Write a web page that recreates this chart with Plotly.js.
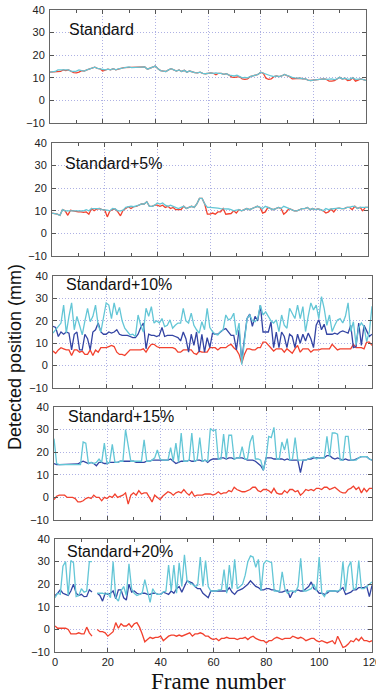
<!DOCTYPE html>
<html>
<head>
<meta charset="utf-8">
<script src="https://cdn.plot.ly/plotly-3.0.1.min.js"></script>
<style>html,body{margin:0;padding:0;background:#fff;}#chart{width:376px;height:693px;}</style>
</head>
<body>
<div id="chart"></div>
<script>
// ---- data ----
const panelTitles = ["Standard", "Standard+5%", "Standard+10%", "Standard+15%", "Standard+20%"];
const xTickVals = [0, 20, 40, 60, 80, 100, 120];
const yTickVals = [-10, 0, 10, 20, 30, 40];
const frames = Array.from({length: 121}, (_, i) => i);

// Panel 1: Standard
const std_cyan = [12.5,12.5,12.8,13.5,13.5,13.5,13.2,13.5,13,12.8,13,13.5,13.2,13,13.5,14,14.5,14.7,14.2,14,13.5,13.5,13.8,13.5,14,13.5,14,14.2,14.5,14.5,14.8,14.5,14.5,14.8,14.5,14.5,14.8,13.8,14.2,14.8,15.2,14,13.2,13,12.8,13.5,14,13.5,13,13.5,12.8,13.3,12.5,13,12.5,12.3,12.2,12.5,12,11.8,12,12.2,12,12.2,12,12,11.5,11.8,11.2,11,10.8,11.2,10.5,10,10.2,10,10.5,10.8,11,11.5,12.5,12,11.5,11,10.8,10.5,10.8,10.5,10.8,11.5,11,10.5,10.2,10,10,9.8,9.5,9.5,9,8.8,9,9.2,9.3,9.5,9.5,9.3,9.5,9.5,9.2,9.5,10.2,9.5,9.8,9.3,9.5,10,9.3,9.5,9.5,9.2,8.8];
const std_red = [12.5,12.5,12.8,12.5,12.8,13.5,13.2,13.5,13,12.3,12.2,12.5,13.2,13,13.5,14,14.5,14.7,14.2,14,13,13.5,13.8,13.5,14,13.5,14,14.2,14.5,14.5,14.8,14.5,14.5,14.8,14.5,14.5,14.8,13.8,14.2,14.8,15.2,14,13.2,13,12.8,13.5,14,13.5,13,13.5,12.8,13.3,12.5,13,12.5,12.3,12.2,12.5,12,11.8,12,12.2,12,11.3,12,12,11.5,11.8,11.2,10.3,10.2,10.3,10.5,9.5,9.3,9.5,10.5,10.8,11,11.5,12.5,12,9.8,9.3,9.5,10.5,10.8,10.5,10.8,11.5,11,10.5,9.5,9.6,10,9.8,9.5,9.5,9,8.8,9,9.2,9.3,9.5,9.5,9.3,8.5,8.5,8.7,9.5,10.2,9.5,9.8,8.8,9,10,8.5,9,9.5,9.2,8.8];

// Panel 2: Standard+5%
const p5_cyan = [9,8.8,8.5,8,10.5,10,10,10.2,10,10,10.3,10,10,10.5,10,11,11,10.8,11,10.5,10.5,10.3,10,11,10.8,10,10,10.3,11.5,11.8,12,11.8,12,12.5,13,13,14,12,12,12.5,13.5,13,13.5,12.5,12,12.5,12,11.5,11,11.5,12,11,11.5,12,11.5,13,15.5,15.5,13,11.5,11.5,11.5,11.3,11.2,11,11,11,10.8,10.5,10,10.3,10.5,10,10.5,11,10.5,11,11.5,12,11.5,11,12,11.5,11,10.5,11,11.5,11,12,11.5,11,10.5,10,10,10.5,11,11,11.5,10.5,11,10.5,10.8,10.5,10,11,10.5,10.8,11,11,11.2,11,11,11.5,11.5,12,12,11,11.5,11.5,11.5,11.5];
const p5_red = [9,8.8,8.5,8,10.5,10,8,10.2,10,9.5,9.5,9.5,9.3,9.5,8.5,11,10,10.8,11,10.5,10.5,7.3,10,10.5,10.8,9.5,7.8,10.3,11,11.8,11,11.8,12,12.5,13,13,14,12,12,12.5,12.5,12,12.5,11.5,12,11,11.5,10.5,10.5,10.5,12,11,11.5,12,11.5,13,15.5,15.5,13,8.5,8.5,9,8.5,9.5,9.5,11,8.5,8.5,8.8,10,9,10.5,10,10.5,11,10.5,11,11.5,12,11.5,9,9.5,11.5,11,10.5,11,11.5,11,8.5,9.5,11,10.5,10,10,10.5,11,11,11.5,10.5,11,10.5,10.8,10.5,10,9,9.5,10.8,9.5,11,11.2,11,11,11.5,11.5,10.5,12,11,11.5,10,11.5,11.5];

// Panel 3: Standard+10%
const p10_red = [6.5,5.5,7,8,7.5,7,7,4.5,7,7,6,6.5,5,5,7,4.5,7,6,8,8,8,8.5,9,8.5,6,5,5,4.5,6,7,7,7,7,7,7.5,6,8,9.5,9.5,8.5,8,8,8,8,8,8,7.5,6,6,7,7,7,7,5.5,5,6.5,6,6,6,8,8,8,7,8,8,8,9,9.5,8,7,5,1,5,7.5,7.5,7,7,8,8,10.5,10.5,9,7.5,6.5,7.5,7.5,7.5,6,7.5,6.5,5.5,7.5,9,6,7.5,7.5,7.5,6,7,7,7,7.5,7.5,7.5,7.5,9.5,8,7,7.5,7.5,7.5,7.5,7.5,9.5,8,8,8,7.5,10.5,10.5,9];
const p10_blue = [17.5,17,13,15,14,15,14.5,7,14,15,7,7,14,12,7,15,16,19,15,14,14,15,14.5,15,16,14,13.5,13.5,13.5,13,12.5,12.5,14,17,19,7.5,14,13.5,13.5,13,13.5,17,13,13.5,13.5,13.5,13,12.5,11,15,12,6,14,9,15,6,14,6,12.5,8,14.5,14,14,15,16,16.5,15,13.5,13.5,7,16,2,12,21,23,17.5,22,20,27,15,15,15,19.5,8,15,8,15,13,8,14,13,8,14,10,14,11,14.5,12,8,18,20.5,16,18.5,14,14,14,14.5,14,15,15.5,15,14.5,18,8,8.5,19,9,18,15.5,13,14];
const p10_cyan = [14.5,16,18,19,27,14.5,22,28,16,22,18,13.7,20,25.5,19.6,22,27,18,15,22,28,27,21,28,22.6,26,20,16.7,15,13.7,14,13,22.6,18,15,25.6,22,26.3,19,20,19,21,17.4,18,20.4,16.7,18,19,19,25.6,20,19,23.4,18,16,14.5,19.6,16,25.6,17,15.2,14,13.7,15.2,16,22.6,20.4,21,23.4,13.7,19,0.4,10.7,21,22.6,20,19.6,21,27,22.6,24,22,20,19,20.4,15.2,22.6,18,16.7,25.6,23.4,21,27,21,26.3,15.2,22,28,24.8,27,21,30.8,25.6,18,22.6,15.2,18,20.4,21,19,22,28,15.2,19.6,9.3,17,19,17.4,10.7,15,26.5];

// Panel 4: Standard+15%
const p15_red = [-1,0.5,1,1,1,0,0,0,-0.5,-2,-2,-1.5,-0.5,0,-0.5,1,0,0,-1.5,0,-0.5,0.5,0,1.5,0,0.5,1,2,-3,1,2,1,3,1.5,2,2,0,-2,1,0,-1,0.5,1.5,2.5,2,1,2,2.5,2,3.5,2,1,2.5,0.5,1,1,1,1.5,1.5,1.5,1,1.5,2.5,1.5,2,2,3,2.5,4.5,3.5,3,2.5,2.5,3,3.5,4.5,4.5,3,2.5,3.5,3.5,3,2,4,2,1.5,1.5,3,2,3.5,3.5,2.5,3,1,2,3.5,3,3.5,3,4,4,3.5,4.5,4.5,3.5,4,4.5,3.5,2.5,2,2,3.5,4,5,3.5,4.5,2,4,2.5,4,4];
const p15_blue = [15,14.5,14.5,14.5,14.5,14.5,14.5,14.5,14.5,14.8,15.5,16,15.5,15,15.5,15,14,15.5,15.5,15,15,15.5,15.5,15.5,15.5,16,16,16,16,16,16,15.5,15.5,15.5,15.5,16,16,16.5,16.5,16.5,16.5,16.5,16.5,16.5,17,16,15,15.5,16,16,16,16.5,16,16,16.5,16.5,16,16.5,15.5,16.5,17,17,17,17.5,17.5,17,17.5,17.5,17,17.5,17.5,17.5,17,16.5,16.5,16.5,16,15,14,12,17.5,17.5,17.5,17,17,17,17,16.5,17,16.5,16.5,16.5,16.5,11,16.5,16.5,17,17,17.5,17.5,17.5,17.5,17.5,18.5,18.5,17.5,17,17.5,17,16.5,17,16.5,16.5,16.5,17,17.5,18,18,18,17,16.5];
const p15_cyan = [26,15,14.5,14.5,14.5,14.5,14.5,14.5,14.5,14.8,14.5,24.5,24,15,15.5,15,15.5,17,15.5,24,15,15.5,23.5,15.5,15.5,16,16,30,22,16,16,16,16,16,25.5,16,16,16.5,17.5,21,17,16.5,16.5,16.5,22,16,24,15.5,28.5,16,16,16.5,28.5,16,16.5,26.5,16,16.5,16,30.5,29.5,30,17,17,28,17,27.5,27.5,17,17.5,17.5,22.5,17,17,24.5,27.5,17,17,16.5,12,17,27,26.5,31,17,17,24.5,21,26,16.5,17,26.5,16.5,16.5,16.5,16.5,17,17.5,18,17,17.5,17.5,17.5,27,18,28.5,28.5,28,16.5,16.5,27,27,16.5,16.5,16.5,17.5,18,18,18,17,16.5];

// Panel 5: Standard+20%
const p20_red = [1.5,0.5,0.5,0.5,0.5,0,-2,-2,-2,-1.5,-2,-2,1,-1.5,-3,null,0,-1,-1,-1.5,-3,-2,-1,3,0.5,2.5,1.5,1.5,2.5,1,2.5,3,1,-2,-5.5,-4.5,-3.5,-4,-3.5,-3.5,-3,-5,-4,-3,-2.5,-2.5,-3,-2.5,-3,-2.5,-2,-1.5,-3,-2,-2,-1.5,-2,-3,-3,-4,-4.5,-4,-5,-4,-4,-3.5,-4,-4,-4,-4.5,-4,-4,-3.5,-4.5,-3.5,-3,-4,-4.5,-5,-5,-6,-5,-5,-4,-3.5,-4,-4.5,-4,-4,-4,-3,-3.5,-4,-3.5,-4,-5,-4.5,-4,-4,-5,-5.5,-5,-5.5,-6,-5.5,-5,-6.5,-3,-5.5,-8,-7.5,-6.5,-5,-5.5,-4,-5,-3.5,-5,-5,-5.5,-5];
const p20_blue = [15,16,17.5,16,15.5,15,17,20,16,15,15.5,14.5,14.6,17.5,16.5,null,16,15,12.5,16,15.5,16,17,13.5,17.5,17.5,14,13,20,16.5,17,16,15.5,16,16,15.5,15.5,16,16,15.5,15.5,16.5,16,15.5,17,16,18,19,16.5,19,21.5,21,20.5,19,18,18,16,15,14,17,17,17,17,17,17,17,18.5,16.5,15.5,17,17.5,18,19,20,21.5,20,19,18.5,17.5,17.5,18,18,17.5,17.5,17,16.5,16.5,17,17.5,14,16.5,17,17.5,17,17,18,19,21,18,17.5,16,16,15.5,16,17,17,17,16.5,17.5,18.5,15.5,16,16.5,17.5,17.5,18.5,18.5,18.5,19,14.5,19.5];
const p20_cyan = [14,16,15.5,28,30,15,30.5,29.5,14.5,15,18,16.5,17,30,30,null,16,16,16,15.5,16,14,30,14,12.5,17,19,15,29,18,16,15,15.5,16,22,17,12,18,16,15.5,15.5,16.5,17,28.5,17,28.5,16,29.5,19,33,21.5,20.5,20,19,19.5,32,19,30.5,19,17,17,17,17.5,17.5,26.5,16,28.5,18,31,18,19,20,24,30,32.5,32,27.5,31,17,29,30.5,30,29.5,17,17,17,25.5,18,16,17,17,16.5,19,31.5,17,17,17.5,18,20,17,32,16,14.5,17,17,17,17,17,17.5,30,17,27.5,30,17.5,18.5,30.5,18,18,19,20,21];

const panelRed = [std_red, p5_red, p10_red, p15_red, p20_red];
const panelBlue = [null, null, p10_blue, p15_blue, p20_blue];
const panelCyan = [std_cyan, p5_cyan, p10_cyan, p15_cyan, p20_cyan];

// ---- layout geometry (pixels) ----
const W = 376, H = 693;
const boxes = [
  {l: 50, r: 366, t: 10, b: 123},
  {l: 52, r: 368, t: 143, b: 256},
  {l: 53, r: 372, t: 276, b: 388},
  {l: 54, r: 372, t: 407, b: 520},
  {l: 55, r: 372, t: 539, b: 652}
];
const titlePos = [{x: 67, y: 30}, {x: 63, y: 163}, {x: 64, y: 284}, {x: 66, y: 416}, {x: 65, y: 551}];

const RED = '#f2412e', BLUE = '#3344a3', CYAN = '#63c6d6';
const GRID = '#aeb1e4';

const traces = [];
const layout = {
  width: W, height: H,
  margin: {l: 0, r: 0, t: 0, b: 0},
  paper_bgcolor: '#fff', plot_bgcolor: '#fff',
  showlegend: false,
  font: {family: 'Liberation Sans, Arial, sans-serif', size: 11, color: '#222'},
  annotations: []
};

for (let i = 0; i < 5; i++) {
  const n = i === 0 ? '' : String(i + 1);
  const xa = 'x' + n, ya = 'y' + n;
  const bx = boxes[i];
  const add = (arr, color) => {
    if (!arr) return;
    traces.push({x: frames, y: arr, xaxis: xa, yaxis: ya, type: 'scatter', mode: 'lines',
      line: {color: color, width: 1.3}, connectgaps: false, hoverinfo: 'skip'});
  };
  add(panelRed[i], RED);
  add(panelBlue[i], BLUE);
  add(panelCyan[i], CYAN);

  layout['xaxis' + n] = {
    domain: [bx.l / W, bx.r / W], anchor: ya,
    range: [0, 120], tickvals: xTickVals, ticks: 'inside', ticklen: 4, tickcolor: '#555',
    showticklabels: i === 4, tickfont: {size: 11, color: '#222'}, ticklabeloverflow: 'allow',
    showgrid: true, gridcolor: GRID, griddash: '1px,2px', gridwidth: 1,
    showline: true, mirror: 'ticks', linecolor: '#666', linewidth: 1, zeroline: false,
    minor: {dtick: 10, tick0: 0, ticks: 'inside', ticklen: 3, tickcolor: '#555', showgrid: false}
  };
  layout['yaxis' + n] = {
    domain: [1 - bx.b / H, 1 - bx.t / H], anchor: xa,
    range: [-10, 40], tickvals: yTickVals, ticks: 'inside', ticklen: 4, tickcolor: '#555',
    tickfont: {size: 11, color: '#222'}, ticklabelstandoff: 2,
    showgrid: true, gridcolor: GRID, griddash: '1px,2px', gridwidth: 1,
    showline: true, mirror: 'ticks', linecolor: '#666', linewidth: 1, zeroline: false
  };
  layout.annotations.push({
    text: panelTitles[i], xref: 'paper', yref: 'paper',
    x: titlePos[i].x / W, y: 1 - titlePos[i].y / H, xanchor: 'left', yanchor: 'middle',
    showarrow: false, font: {family: 'Liberation Sans, Arial, sans-serif', size: 16, color: '#111'}
  });
}

layout.annotations.push({
  text: 'Detected position (mm)', xref: 'paper', yref: 'paper',
  x: 15 / W, y: 1 - 357 / H, xanchor: 'center', yanchor: 'middle', textangle: -90,
  showarrow: false, font: {family: 'Liberation Sans, Arial, sans-serif', size: 18, color: '#111'}
});
layout.annotations.push({
  text: 'Frame number', xref: 'paper', yref: 'paper',
  x: 218 / W, y: 1 - 681 / H, xanchor: 'center', yanchor: 'middle',
  showarrow: false, font: {family: 'Liberation Serif, Times New Roman, serif', size: 23, color: '#111'}
});

Plotly.newPlot('chart', traces, layout, {staticPlot: true, displayModeBar: false});
</script>
</body>
</html>
